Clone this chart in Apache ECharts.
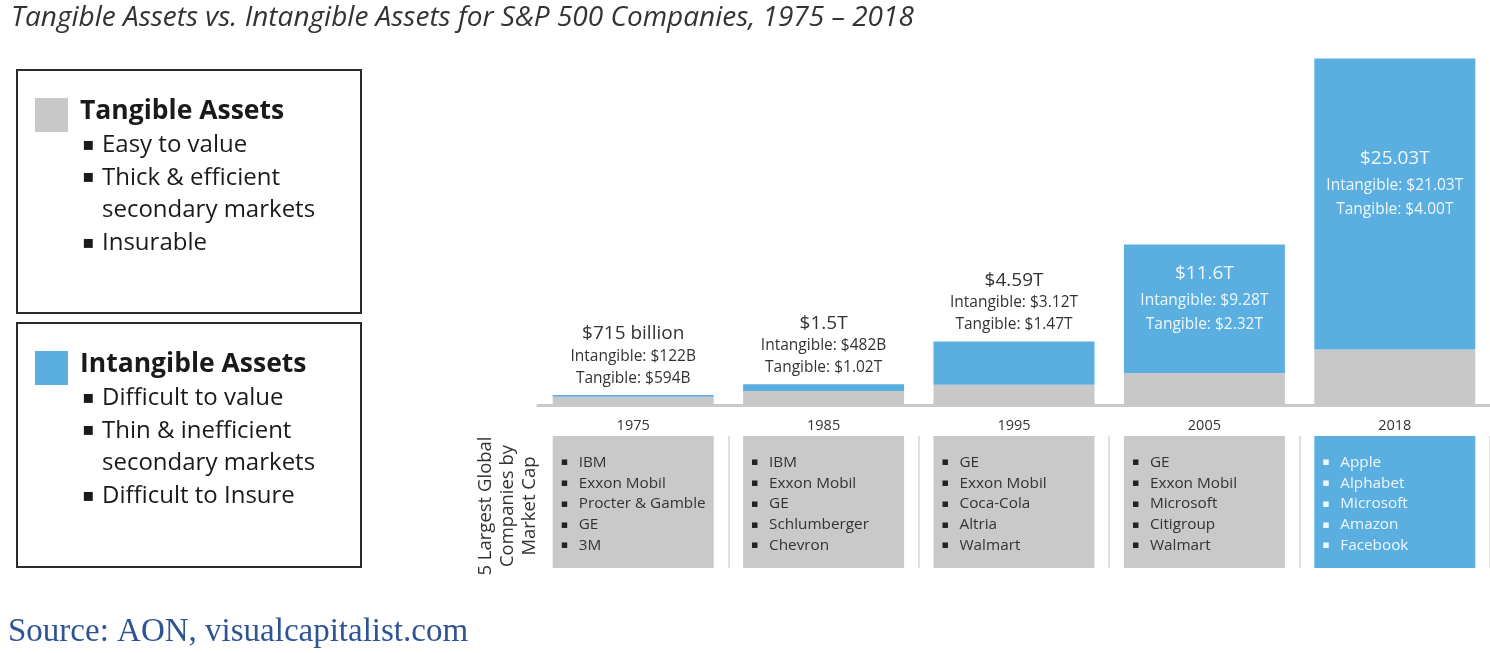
<!DOCTYPE html>
<html>
<head>
<meta charset="utf-8">
<script src="https://cdn.jsdelivr.net/npm/echarts@6/dist/echarts.min.js"></script>
<style>html,body{margin:0;padding:0;background:#fff}#c{width:1490px;height:653px}</style>
</head>
<body>
<div id="c"></div>
<script>
// ---- data ----
const years = ['1975', '1985', '1995', '2005', '2018'];
const tangible = [0.594, 1.02, 1.47, 2.32, 4.00];      // $ trillions
const intangible = [0.122, 0.482, 3.12, 9.28, 21.03];  // $ trillions
const totalText = ['$715 billion', '$1.5T', '$4.59T', '$11.6T', '$25.03T'];
const intangibleText = ['$122B', '$482B', '$3.12T', '$9.28T', '$21.03T'];
const tangibleText = ['$594B', '$1.02T', '$1.47T', '$2.32T', '$4.00T'];
const leaders = [
  ['IBM', 'Exxon Mobil', 'Procter & Gamble', 'GE', '3M'],
  ['IBM', 'Exxon Mobil', 'GE', 'Schlumberger', 'Chevron'],
  ['GE', 'Exxon Mobil', 'Coca-Cola', 'Altria', 'Walmart'],
  ['GE', 'Exxon Mobil', 'Microsoft', 'Citigroup', 'Walmart'],
  ['Apple', 'Alphabet', 'Microsoft', 'Amazon', 'Facebook']
];
const leaderBox = [1, 1, 1, 1, 1];
const tangibleNotes = [['Easy to value'], ['Thick & efficient', 'secondary markets'], ['Insurable']];
const intangibleNotes = [['Difficult to value'], ['Thin & inefficient', 'secondary markets'], ['Difficult to Insure']];

// ---- styles ----
const FONT = 'Open Sans';
const GRAY = '#c8c8c8';
const BLUE = '#5aafe0';
const BW = 161;

function legendBox(y0, h, color, title, notes) {
  const els = [
    { type: 'rect', shape: { x: 17, y: y0, width: 344, height: h }, style: { fill: '#fff', stroke: '#2b2b2b', lineWidth: 2 } },
    { type: 'rect', shape: { x: 35, y: y0 + 28, width: 33, height: 34 }, style: { fill: color } },
    { type: 'text', x: 80, y: y0 + 41, style: { text: title, font: 'bold 26.5px "' + FONT + '"', fill: '#1a1a1a', verticalAlign: 'middle' } }
  ];
  let ly = y0 + 75;
  notes.forEach(lines => {
    lines.forEach((ln, k) => {
      if (k === 0) els.push({ type: 'text', x: 82, y: ly, style: { text: '▪', font: '18px "DejaVu Sans"', fill: '#1a1a1a', verticalAlign: 'middle' } });
      els.push({ type: 'text', x: 102, y: ly, style: { text: ln, font: '24px "' + FONT + '"', fill: '#1a1a1a', verticalAlign: 'middle' } });
      ly += 32.7;
    });
  });
  return els;
}

const chart = echarts.init(document.getElementById('c'), null, { renderer: 'canvas' });
const last = years.length - 1;

chart.setOption({
  animation: false,
  backgroundColor: '#fff',
  title: [
    { text: 'Tangible Assets vs. Intangible Assets for S&P 500 Companies, 1975 – 2018', left: 6, top: -1,
      textStyle: { fontFamily: FONT, fontStyle: 'italic', fontWeight: 'normal', fontSize: 28, color: '#333' } },
    { text: 'Source: AON, visualcapitalist.com', left: 3, top: 611,
      textStyle: { fontFamily: 'Liberation Serif', fontWeight: 'normal', fontSize: 33, color: '#2f5496' } }
  ],
  grid: [
    { left: 538, width: 955, top: 45, bottom: 248 },
    { left: 538, width: 955, top: 436, height: 132 }
  ],
  xAxis: [
    { type: 'category', gridIndex: 0, data: years,
      axisLine: { lineStyle: { color: '#c9c9c9', width: 3 } }, axisTick: { show: false },
      axisLabel: { margin: 13, fontFamily: FONT, fontSize: 14.5, color: '#333' } },
    { type: 'category', gridIndex: 1, data: years,
      axisLine: { show: false }, axisTick: { show: false }, axisLabel: { show: false },
      splitLine: { show: true, interval: (i) => i > 0, lineStyle: { color: '#d6d6d6', width: 1.5 } } }
  ],
  yAxis: [
    { type: 'value', gridIndex: 0, min: 0, max: 26, show: false },
    { type: 'value', gridIndex: 1, min: 0, max: 1,
      axisLine: { show: false }, axisTick: { show: false }, axisLabel: { show: false }, splitLine: { show: false },
      name: '5 Largest Global\nCompanies by\nMarket Cap', nameLocation: 'middle', nameGap: -3, nameRotate: 90,
      nameTextStyle: { fontFamily: FONT, fontSize: 18.5, lineHeight: 22, color: '#333', padding: [0, 8, 0, 0] } }
  ],
  series: [
    { name: 'Tangible Assets', type: 'bar', stack: 'assets', xAxisIndex: 0, yAxisIndex: 0,
      barWidth: BW, itemStyle: { color: GRAY }, data: tangible },
    { name: 'Intangible Assets', type: 'bar', stack: 'assets', xAxisIndex: 0, yAxisIndex: 0,
      barWidth: BW, itemStyle: { color: BLUE },
      data: intangible.map((v, i) => ({
        value: v,
        label: i < 3 ? { position: 'top', distance: 6 } : { position: 'insideTop', distance: i === last ? 85 : 14 }
      })),
      label: {
        show: true,
        formatter: (p) => {
          const i = p.dataIndex;
          const h = i < 3 ? 'h' : 'hi', s = i < 3 ? 's' : 'si';
          return '{' + h + '|' + totalText[i] + '}\n{' + s + '|Intangible: ' + intangibleText[i] + '}\n{' + s + '|Tangible: ' + tangibleText[i] + '}';
        },
        rich: {
          h: { fontFamily: FONT, fontSize: 19, lineHeight: 22, color: '#333', align: 'center' },
          s: { fontFamily: FONT, fontSize: 15.5, lineHeight: 22, color: '#333', align: 'center' },
          hi: { fontFamily: FONT, fontSize: 19, lineHeight: 30, color: '#eef7fd', align: 'center' },
          si: { fontFamily: FONT, fontSize: 15.5, lineHeight: 24, color: '#eef7fd', align: 'center' }
        }
      } },
    { name: 'Leaders', type: 'bar', xAxisIndex: 1, yAxisIndex: 1, barWidth: BW, silent: true,
      data: leaderBox.map((v, i) => ({ value: v, itemStyle: { color: i === last ? BLUE : '#c9c9c9' } })),
      label: {
        show: true, position: 'insideTopLeft', offset: [3, 11],
        formatter: (p) => {
          const k = p.dataIndex === last ? 'w' : 'd';
          return leaders[p.dataIndex].map(n => '{b' + k + '|▪}{t' + k + '|' + n + '}').join('\n');
        },
        rich: {
          bd: { width: 18, fontFamily: 'DejaVu Sans', fontSize: 11, lineHeight: 20.8, color: '#222' },
          td: { fontFamily: FONT, fontSize: 15.3, lineHeight: 20.8, color: '#333' },
          bw: { width: 18, fontFamily: 'DejaVu Sans', fontSize: 11, lineHeight: 20.8, color: '#eef7fd' },
          tw: { fontFamily: FONT, fontSize: 15.3, lineHeight: 20.8, color: '#eef7fd' }
        }
      } }
  ],
  graphic: [].concat(
    legendBox(70, 243, GRAY, 'Tangible Assets', tangibleNotes),
    legendBox(323, 244, BLUE, 'Intangible Assets', intangibleNotes)
  )
});
</script>
</body>
</html>
